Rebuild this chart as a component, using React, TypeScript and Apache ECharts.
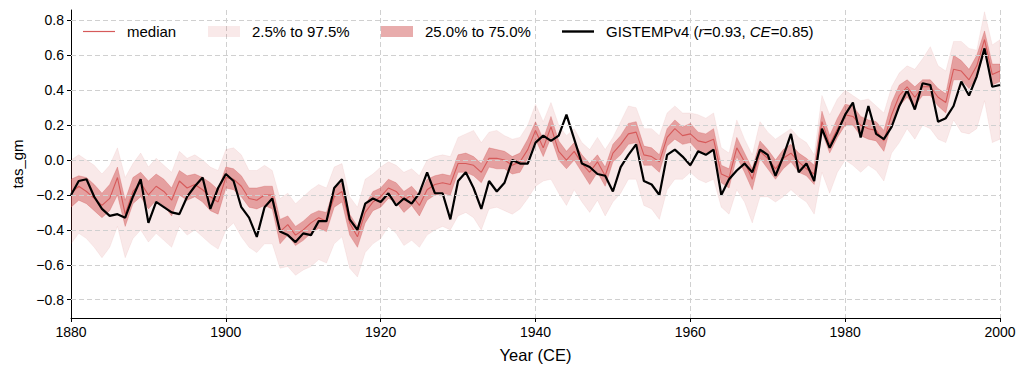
import React, { useEffect, useRef } from "react";
import * as echarts from "echarts";

const years: number[] = Array.from({ length: 121 }, (_, i) => 1880 + i);

const median: number[] = [
  -0.19, -0.15, -0.18, -0.22, -0.26, -0.22, -0.10, -0.31, -0.18, -0.13,
  -0.20, -0.15, -0.18, -0.23, -0.12, -0.16, -0.14, -0.17, -0.21, -0.24,
  -0.10, -0.11, -0.15, -0.22, -0.23, -0.20, -0.20, -0.41, -0.37, -0.43,
  -0.40, -0.36, -0.33, -0.35, -0.21, -0.18, -0.36, -0.44, -0.30, -0.24,
  -0.21, -0.16, -0.18, -0.23, -0.20, -0.26, -0.17, -0.14, -0.13, -0.14,
  -0.02, -0.02, -0.03, -0.07, 0.01, 0.01, 0.00, -0.03, -0.01, 0.06,
  0.17, 0.07, 0.19, 0.05, 0.00, 0.05, -0.02, -0.07, -0.01, -0.09,
  0.04, 0.09, 0.15, 0.16, 0.03, 0.02, -0.01, 0.13, 0.18, 0.14,
  0.15, 0.11, 0.10, 0.12, -0.08, -0.10, 0.07, -0.01, -0.11, 0.05,
  0.01, -0.05, 0.01, 0.04, -0.01, -0.05, -0.08, 0.22, 0.09, 0.18,
  0.26, 0.25, 0.20, 0.18, 0.17, 0.11, 0.26, 0.37, 0.42, 0.36,
  0.42, 0.42, 0.36, 0.33, 0.52, 0.51, 0.46, 0.54, 0.69, 0.49,
  0.51,
];

const q25: number[] = [
  -0.27, -0.23, -0.25, -0.29, -0.33, -0.29, -0.20, -0.38, -0.25, -0.21,
  -0.28, -0.23, -0.26, -0.32, -0.20, -0.23, -0.21, -0.24, -0.29, -0.31,
  -0.16, -0.17, -0.21, -0.27, -0.28, -0.26, -0.28, -0.48, -0.43, -0.49,
  -0.46, -0.42, -0.39, -0.41, -0.27, -0.24, -0.43, -0.50, -0.36, -0.29,
  -0.27, -0.22, -0.24, -0.30, -0.26, -0.32, -0.23, -0.20, -0.19, -0.20,
  -0.07, -0.07, -0.09, -0.13, -0.04, -0.05, -0.05, -0.08, -0.07, 0.01,
  0.12, 0.02, 0.13, 0.00, -0.05, 0.00, -0.07, -0.14, -0.07, -0.15,
  -0.01, 0.03, 0.09, 0.10, -0.03, -0.03, -0.07, 0.08, 0.12, 0.09,
  0.10, 0.05, 0.04, 0.06, -0.13, -0.16, 0.02, -0.07, -0.17, 0.01,
  -0.05, -0.11, -0.05, -0.01, -0.07, -0.09, -0.14, 0.16, 0.04, 0.13,
  0.20, 0.20, 0.14, 0.12, 0.11, 0.05, 0.21, 0.31, 0.36, 0.31,
  0.37, 0.37, 0.31, 0.27, 0.46, 0.46, 0.41, 0.47, 0.63, 0.43,
  0.45,
];

const q75: number[] = [
  -0.11, -0.09, -0.10, -0.14, -0.19, -0.14, -0.04, -0.23, -0.10, -0.07,
  -0.12, -0.08, -0.11, -0.16, -0.06, -0.09, -0.08, -0.10, -0.13, -0.17,
  -0.04, -0.05, -0.09, -0.16, -0.16, -0.15, -0.15, -0.34, -0.32, -0.38,
  -0.35, -0.31, -0.29, -0.30, -0.16, -0.13, -0.31, -0.38, -0.26, -0.18,
  -0.16, -0.11, -0.13, -0.18, -0.15, -0.20, -0.11, -0.09, -0.08, -0.09,
  0.03, 0.04, 0.02, -0.02, 0.07, 0.06, 0.05, 0.02, 0.04, 0.12,
  0.22, 0.12, 0.25, 0.11, 0.05, 0.10, 0.03, -0.02, 0.03, -0.04,
  0.09, 0.14, 0.21, 0.22, 0.08, 0.07, 0.03, 0.18, 0.23, 0.19,
  0.21, 0.16, 0.15, 0.18, -0.03, -0.05, 0.13, 0.04, -0.05, 0.11,
  0.06, 0.00, 0.06, 0.09, 0.04, 0.01, -0.03, 0.28, 0.14, 0.24,
  0.32, 0.31, 0.25, 0.23, 0.22, 0.17, 0.33, 0.43, 0.46, 0.42,
  0.46, 0.46, 0.41, 0.38, 0.60, 0.57, 0.52, 0.60, 0.74, 0.55,
  0.55,
];

const p025: number[] = [
  -0.48, -0.42, -0.45, -0.50, -0.56, -0.50, -0.38, -0.56, -0.45, -0.40,
  -0.47, -0.42, -0.46, -0.50, -0.38, -0.43, -0.40, -0.44, -0.48, -0.51,
  -0.40, -0.36, -0.44, -0.50, -0.53, -0.48, -0.48, -0.62, -0.61, -0.66,
  -0.63, -0.61, -0.57, -0.59, -0.48, -0.44, -0.62, -0.67, -0.53, -0.48,
  -0.45, -0.38, -0.42, -0.49, -0.46, -0.50, -0.43, -0.40, -0.38, -0.40,
  -0.32, -0.30, -0.33, -0.40, -0.28, -0.27, -0.29, -0.31, -0.28, -0.22,
  -0.15, -0.12, -0.11, -0.19, -0.26, -0.17, -0.24, -0.30, -0.23, -0.32,
  -0.24, -0.19, -0.11, -0.11, -0.26, -0.28, -0.34, -0.17, -0.11, -0.11,
  -0.07, -0.11, -0.13, -0.11, -0.27, -0.31, -0.17, -0.24, -0.36, -0.21,
  -0.21, -0.24, -0.21, -0.17, -0.21, -0.24, -0.31, -0.07, -0.19, -0.07,
  0.00, -0.03, -0.07, -0.03, -0.06, -0.12, 0.04, 0.10, 0.18, 0.12,
  0.20, 0.18, 0.12, 0.10, 0.23, 0.16, 0.15, 0.18, 0.34, 0.10,
  0.12,
];

const p975: number[] = [
  0.00, 0.03, 0.00, -0.03, -0.08, -0.03, 0.07, -0.10, -0.02, 0.04,
  -0.04, 0.01, -0.03, -0.07, 0.05, 0.01, 0.03, 0.00, -0.04, -0.06,
  0.06, 0.07, 0.03, -0.06, -0.06, -0.03, -0.06, -0.22, -0.19, -0.25,
  -0.21, -0.17, -0.14, -0.16, -0.04, -0.02, -0.21, -0.27, -0.11, -0.08,
  -0.04, -0.01, -0.03, -0.07, -0.05, -0.09, 0.00, 0.02, 0.03, 0.02,
  0.13, 0.15, 0.17, 0.10, 0.16, 0.17, 0.14, 0.12, 0.13, 0.20,
  0.32, 0.22, 0.33, 0.20, 0.14, 0.18, 0.10, 0.06, 0.13, 0.06,
  0.13, 0.22, 0.31, 0.30, 0.18, 0.18, 0.14, 0.27, 0.31, 0.27,
  0.27, 0.26, 0.24, 0.27, 0.07, 0.04, 0.23, 0.12, 0.03, 0.22,
  0.16, 0.12, 0.15, 0.18, 0.13, 0.10, 0.03, 0.37, 0.26, 0.35,
  0.40, 0.37, 0.34, 0.35, 0.31, 0.27, 0.42, 0.50, 0.54, 0.52,
  0.58, 0.65, 0.54, 0.51, 0.68, 0.68, 0.64, 0.63, 0.85, 0.66,
  0.69,
];

const gistemp: number[] = [
  -0.20, -0.12, -0.11, -0.21, -0.28, -0.32, -0.31, -0.33, -0.21, -0.11,
  -0.36, -0.24, -0.27, -0.30, -0.31, -0.21, -0.15, -0.10, -0.28, -0.16,
  -0.08, -0.12, -0.27, -0.33, -0.44, -0.27, -0.22, -0.41, -0.43, -0.47,
  -0.42, -0.43, -0.35, -0.35, -0.16, -0.11, -0.34, -0.40, -0.25, -0.22,
  -0.24, -0.19, -0.26, -0.22, -0.25, -0.19, -0.07, -0.19, -0.19, -0.34,
  -0.12, -0.07, -0.16, -0.28, -0.12, -0.18, -0.13, 0.00, -0.02, -0.02,
  0.10, 0.14, 0.11, 0.14, 0.26, 0.12, -0.02, -0.04, -0.08, -0.09,
  -0.18, -0.04, 0.03, 0.09, -0.12, -0.14, -0.20, 0.03, 0.06, 0.02,
  -0.03, 0.05, 0.03, 0.06, -0.20, -0.11, -0.06, -0.02, -0.07, 0.06,
  0.03, -0.09, 0.02, 0.15, -0.07, -0.02, -0.12, 0.18, 0.07, 0.16,
  0.26, 0.33, 0.13, 0.31, 0.15, 0.12, 0.19, 0.31, 0.40, 0.29,
  0.44, 0.43, 0.22, 0.24, 0.31, 0.45, 0.37, 0.48, 0.64, 0.42,
  0.43,
];

const yTicks: number[] = [-0.8, -0.6, -0.4, -0.2, 0.0, 0.2, 0.4, 0.6, 0.8];

const FONT = "'Liberation Sans', Arial, sans-serif";
const LIGHT = "rgba(205, 70, 72, 0.12)";
const DARK = "rgba(205, 70, 72, 0.45)";
const MEDIAN_COLOR = "#d65a5a";

function bandSeries(name: string, lo: number[], hi: number[], color: string) {
  return {
    type: "custom",
    name,
    z: 1,
    silent: true,
    clip: true,
    itemStyle: { color },
    data: [[years[0], lo[0], hi[0]]],
    renderItem: (params: any, api: any) => {
      const pts: number[][] = [];
      for (let i = 0; i < years.length; i++) pts.push(api.coord([years[i], hi[i]]));
      for (let i = years.length - 1; i >= 0; i--) pts.push(api.coord([years[i], lo[i]]));
      return {
        type: "polygon",
        shape: { points: pts },
        style: { fill: color, stroke: color, lineWidth: 0.6 },
      };
    },
  };
}

export default function App() {
  const ref = useRef<HTMLDivElement>(null);

  useEffect(() => {
    if (!ref.current) return;
    const chart = echarts.init(ref.current, undefined, { renderer: "svg" });
    const textStyle = { fontFamily: FONT, fontSize: 15, color: "#000", padding: [0, 0, 0, 7] };
    const legendCommon = {
      top: 24,
      padding: 0,
      itemWidth: 32,
      itemHeight: 11,
      selectedMode: false,
      textStyle,
    };
    chart.setOption({
      animation: false,
      backgroundColor: "#fff",
      grid: { left: 71, right: 27, top: 10, bottom: 54, containLabel: false },
      legend: [
        { ...legendCommon, left: 83, itemHeight: 1.2, data: [{ name: "median", icon: "rect" }] },
        { ...legendCommon, left: 208, data: [{ name: "2.5% to 97.5%", icon: "rect" }] },
        { ...legendCommon, left: 381, data: [{ name: "25.0% to 75.0%", icon: "rect" }] },
        {
          ...legendCommon,
          left: 562,
          itemHeight: 2.4,
          data: [{ name: "GISTEMPv4", icon: "rect" }],
          formatter: () => "{n|GISTEMPv4 (}{i|r}{n|=0.93, }{i|CE}{n|=0.85)}",
          textStyle: {
            ...textStyle,
            rich: {
              n: { fontFamily: FONT, fontSize: 15, color: "#000" },
              i: { fontFamily: FONT, fontSize: 15, color: "#000", fontStyle: "italic" },
            },
          },
        },
      ],
      xAxis: {
        type: "value",
        min: 1880,
        max: 2000,
        interval: 20,
        name: "Year (CE)",
        nameLocation: "middle",
        nameGap: 28,
        nameTextStyle: { fontFamily: FONT, fontSize: 16.5, color: "#000" },
        axisLine: { show: true, onZero: false, lineStyle: { color: "#000", width: 1 } },
        axisTick: { show: true, inside: false, length: 4, lineStyle: { color: "#000" } },
        axisLabel: {
          color: "#000",
          fontFamily: FONT,
          fontSize: 14,
          margin: 7,
          formatter: (v: number) => String(v),
        },
        splitLine: { show: true, lineStyle: { color: "#d0d0d0", type: [5, 3], width: 1 } },
      },
      yAxis: {
        type: "value",
        min: -0.905,
        max: 0.86,
        name: "tas_gm",
        nameLocation: "middle",
        nameGap: 46,
        nameTextStyle: { fontFamily: FONT, fontSize: 15, color: "#000" },
        axisLine: { show: true, onZero: false, lineStyle: { color: "#000", width: 1 } },
        axisTick: { show: true, inside: false, length: 4, customValues: yTicks, lineStyle: { color: "#000" } },
        axisLabel: {
          customValues: yTicks,
          color: "#000",
          fontFamily: FONT,
          fontSize: 14,
          margin: 7,
          formatter: (v: number) => {
            const s = Math.abs(v).toFixed(1);
            return v < -1e-9 ? "\u2212" + s : s;
          },
        },
        splitLine: { show: false },
      },
      series: [
        bandSeries("2.5% to 97.5%", p025, p975, LIGHT),
        bandSeries("25.0% to 75.0%", q25, q75, DARK),
        {
          type: "line",
          name: "gridlines",
          z: 2,
          silent: true,
          symbol: "none",
          data: [[years[0], 0]],
          lineStyle: { opacity: 0 },
          markLine: {
            silent: true,
            symbol: ["none", "none"],
            label: { show: false },
            lineStyle: { color: "#d0d0d0", type: [5, 3], width: 1 },
            data: yTicks.map((v) => ({ yAxis: v })),
          },
        },
        {
          type: "line",
          name: "median",
          z: 3,
          symbol: "none",
          showSymbol: false,
          lineStyle: { color: MEDIAN_COLOR, width: 1.1 },
          itemStyle: { color: MEDIAN_COLOR },
          data: years.map((y, i) => [y, median[i]]),
        },
        {
          type: "line",
          name: "GISTEMPv4",
          z: 4,
          symbol: "none",
          showSymbol: false,
          lineStyle: { color: "#000", width: 2.2 },
          itemStyle: { color: "#000" },
          data: years.map((y, i) => [y, gistemp[i]]),
        },
      ],
    });
    return () => chart.dispose();
  }, []);

  return (
    <div
      ref={ref}
      style={{ position: "fixed", left: 0, top: 0, width: 1027, height: 372, background: "#fff" }}
    />
  );
}
